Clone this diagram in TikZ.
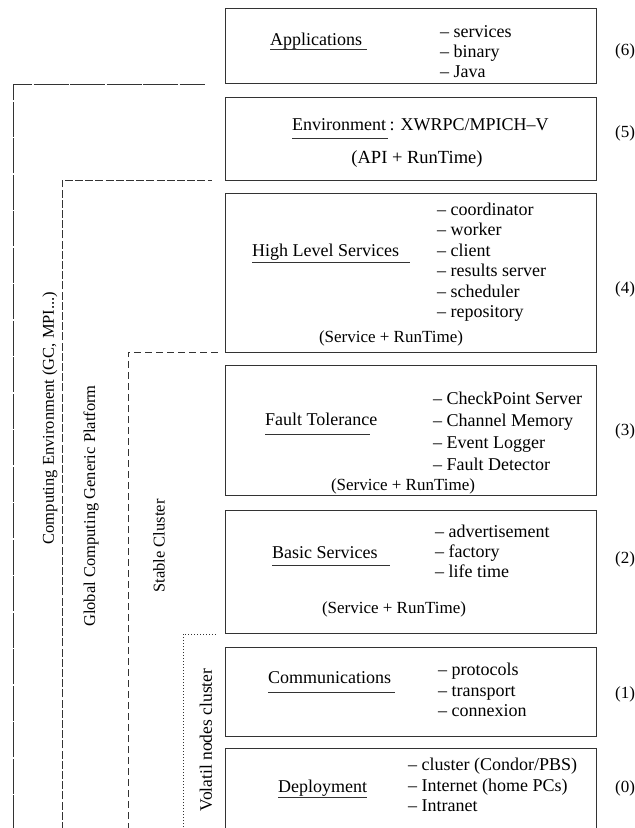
\documentclass[tikz,border=0pt]{standalone}
\usepackage{fontspec}
\setmainfont{Liberation Serif}
\begin{document}
\begin{tikzpicture}[x=1pt,y=-1pt,
  layer/.style={draw=black!80, line width=1.1pt, minimum width=371pt,
    anchor=north west, inner sep=0pt},
  title/.style={anchor=base west, inner sep=0pt, font=\fontsize{18}{20}\selectfont},
  item/.style={anchor=base west, inner sep=0pt, font=\fontsize{18}{20}\selectfont},
  runtime/.style={anchor=base, inner sep=0pt, font=\fontsize{17}{20}\selectfont},
  level/.style={anchor=base west, inner sep=0pt, font=\fontsize{17}{20}\selectfont},
  side/.style={rotate=90, inner sep=0pt, font=\fontsize{16.5}{20}\selectfont},
  uline/.style={draw=black!80, line width=0.9pt},
  envline/.style={draw=black!80, line width=1pt, dash pattern=on 35pt off 1.5pt},
  gcline/.style={draw=black!80, line width=1pt, dash pattern=on 8pt off 2.2pt},
  stline/.style={draw=black!80, line width=1pt, dash pattern=on 7pt off 4pt},
  voline/.style={draw=black!80, line width=1pt, dash pattern=on 1.2pt off 1.8pt},
]
\useasboundingbox (0,0) rectangle (635,828);

% ---- layer boxes ----
\node[layer, minimum height=75pt]  (b6) at (225,8)   {};
\node[layer, minimum height=83pt]  (b5) at (225,97)  {};
\node[layer, minimum height=159pt] (b4) at (225,193) {};
\node[layer, minimum height=130pt] (b3) at (225,365) {};
\node[layer, minimum height=123pt] (b2) at (225,510) {};
\node[layer, minimum height=89pt]  (b1) at (225,647) {};
% the lowest layer runs off the bottom edge
\node[layer, minimum height=100pt] (b0) at (225,748) {};

% ---- (6) Applications ----
\node[title] (t6) at (270,45) {Applications};
\draw[uline] (270,49.5) -- (367,49.5);
\node[item] (i6a) at (440,37) {-- services};
\node[item] (i6b) at (440,57) {-- binary};
\node[item] (i6c) at (440,77) {-- Java};
\node[level] (n6) at (615,55) {(6)};

% ---- (5) Environment ----
\node[title] (t5) at (292,130) {Environment};
\draw[uline] (292,138) -- (388,138);
\node[title, anchor=base west] (t5b) at ([xshift=3pt]t5.base east) {: XWRPC/MPICH--V};
\node[runtime, font=\fontsize{18.5}{20}\selectfont] (r5) at (417,163) {(API + RunTime)};
\node[level] (n5) at (615,137) {(5)};

% ---- (4) High Level Services ----
\node[title] (t4) at (252,256) {High Level Services};
\draw[uline] (252,262) -- (410,262);
\node[item] (i4a) at (437,215) {-- coordinator};
\node[item] (i4b) at (437,235.5) {-- worker};
\node[item] (i4c) at (437,256) {-- client};
\node[item] (i4d) at (437,276.5) {-- results server};
\node[item] (i4e) at (437,297) {-- scheduler};
\node[item] (i4f) at (437,317.5) {-- repository};
\node[runtime] (r4) at (391,342) {(Service + RunTime)};
\node[level] (n4) at (615,293) {(4)};

% ---- (3) Fault Tolerance ----
\node[title] (t3) at (265,425) {Fault Tolerance};
\draw[uline] (265,434.5) -- (370,434.5);
\node[item] (i3a) at (433,404) {-- CheckPoint Server};
\node[item] (i3b) at (433,426) {-- Channel Memory};
\node[item] (i3c) at (433,448) {-- Event Logger};
\node[item] (i3d) at (433,470) {-- Fault Detector};
\node[runtime] (r3) at (403,490) {(Service + RunTime)};
\node[level] (n3) at (615,435) {(3)};

% ---- (2) Basic Services ----
\node[title] (t2) at (272,558) {Basic Services};
\draw[uline] (272,565) -- (390,565);
\node[item] (i2a) at (435,537) {-- advertisement};
\node[item] (i2b) at (435,557) {-- factory};
\node[item] (i2c) at (435,577) {-- life time};
\node[runtime] (r2) at (394,613) {(Service + RunTime)};
\node[level] (n2) at (615,563) {(2)};

% ---- (1) Communications ----
\node[title] (t1) at (268,683) {Communications};
\draw[uline] (268,692.5) -- (395,692.5);
\node[item] (i1a) at (438,675) {-- protocols};
\node[item] (i1b) at (438,696) {-- transport};
\node[item] (i1c) at (438,716) {-- connexion};
\node[level] (n1) at (615,698) {(1)};

% ---- (0) Deployment ----
\node[title] (t0) at (278,792) {Deployment};
\draw[uline] (278,797.5) -- (367,797.5);
\node[item] (i0a) at (408,770) {-- cluster (Condor/PBS)};
\node[item] (i0b) at (408,791) {-- Internet (home PCs)};
\node[item] (i0c) at (408,811) {-- Intranet};
\node[level] (n0) at (615,792) {(0)};

% ---- scope brackets on the left ----
\draw[envline] (13,830) |- (205,84);
\draw[gcline]  (62,830) |- (212,180);
\draw[stline]  (128,830) |- (220,352);
\draw[voline]  (183,830) |- (217,634);

\node[side] (s1) at (50,418)  {Computing Environment (GC, MPI...)};
\node[side] (s2) at (91,506)  {Global Computing Generic Platform};
\node[side] (s3) at (159,546) {Stable Cluster};
\node[side, font=\fontsize{17.5}{20}\selectfont] (s4) at (206,740) {Volatil nodes cluster};
\end{tikzpicture}
\end{document}
